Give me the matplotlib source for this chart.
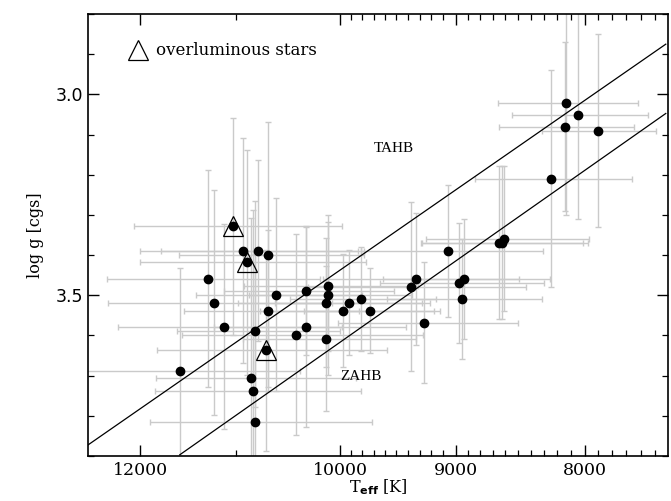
#HB stars: log g vs Teff with TAHB / ZAHB lines

import numpy as np
import matplotlib
matplotlib.use('Agg')
import matplotlib.pyplot as plt
from matplotlib.ticker import FixedLocator, NullFormatter

# Effective temperatures [K]
teff = [11030, 10923, 10782, 10684, 10886, 11283, 11218, 11114, 10605, 10682,
        10804, 10702, 11574, 10844, 10824, 10804, 10411, 10317, 10317, 10114,
        10114, 10131, 10131, 9970, 9916, 9815, 9731, 9062, 9327, 9371,
        9264, 8973, 8934, 8949, 8652, 8627, 8608, 8136, 8050, 8146,
        7905, 8249]
# Errors on Teff [K]
teff_err = [1045, 1085, 1000, 900, 1120, 1095, 1140, 1130, 800, 850,
            800, 1120, 1200, 990, 1015, 1090, 1140, 800, 900, 800,
            750, 850, 800, 790, 700, 650, 600, 750, 830, 930,
            760, 670, 680, 630, 640, 650, 640, 520, 500, 500,
            410, 590]
# Surface gravities
logg = [3.328, 3.389, 3.389, 3.399, 3.418, 3.459, 3.518, 3.578, 3.499, 3.538,
        3.588, 3.637, 3.688, 3.707, 3.737, 3.816, 3.598, 3.489, 3.578, 3.478,
        3.499, 3.518, 3.608, 3.538, 3.518, 3.509, 3.538, 3.390, 3.459, 3.479,
        3.568, 3.469, 3.459, 3.509, 3.369, 3.369, 3.359, 3.021, 3.051, 3.080,
        3.090, 3.210]
# Errors on log g
logg_err = [0.27, 0.28, 0.225, 0.33, 0.28, 0.27, 0.28, 0.255, 0.24, 0.20,
            0.19, 0.25, 0.255, 0.40, 0.45, 0.55, 0.25, 0.16, 0.25, 0.16,
            0.20, 0.16, 0.18, 0.14, 0.13, 0.13, 0.105, 0.165, 0.165, 0.21,
            0.15, 0.15, 0.15, 0.15, 0.19, 0.19, 0.18, 0.28, 0.26, 0.21,
            0.24, 0.27]
# Stars flagged as overluminous (indices into the arrays above)
overluminous = [0, 4, 11]

# Terminal-age and zero-age HB lines (end points)
tahb_teff = [12589, 7428]
tahb_logg = [3.8725, 2.875]
zahb_teff = [11577, 7428]
zahb_logg = [3.897, 3.0475]


def plot_hb(out_file):
    plt.rcParams['font.family'] = 'DejaVu Serif'
    fig = plt.figure(figsize=(6.71, 5.01), dpi=100)
    ax = fig.add_axes([0.1311, 0.0898, 0.8644, 0.8822])

    # error bars first, points on top
    ax.errorbar(teff, logg, xerr=teff_err, yerr=logg_err, fmt='none',
                ecolor='#cacaca', elinewidth=1.0, capsize=2.5, capthick=1.0, zorder=1)
    ax.plot(teff, logg, 'o', color='black', markersize=6, zorder=3)
    ax.plot([teff[i] for i in overluminous], [logg[i] for i in overluminous], '^',
            markerfacecolor='none', markeredgecolor='black', markersize=14,
            markeredgewidth=0.9, zorder=4)

    ax.plot(tahb_teff, tahb_logg, color='black', lw=0.9, zorder=2)
    ax.plot(zahb_teff, zahb_logg, color='black', lw=0.9, zorder=2)
    ax.text(9520, 3.135, 'TAHB', ha='center', va='center', fontsize=11,
            family='Liberation Serif')
    ax.text(9811, 3.702, 'ZAHB', ha='center', va='center', fontsize=11,
            family='Liberation Serif')

    # legend drawn by hand
    ax.plot([0.0862], [0.9186], '^', transform=ax.transAxes, markerfacecolor='none',
            markeredgecolor='black', markersize=14, markeredgewidth=0.9)
    ax.text(0.117, 0.9186, 'overluminous stars', transform=ax.transAxes,
            va='center', ha='left', fontsize=12)

    # axes: log T scale, both reversed
    ax.set_xscale('log')
    ax.set_xlim(10**4.1, 10**3.87)
    ax.set_ylim(3.9, 2.8)
    ax.xaxis.set_major_locator(FixedLocator([12000, 10000, 9000, 8000]))
    ax.set_xticklabels(['12000', '10000', '9000', '8000'])
    minors = [11000] + [t for t in range(7500, 10000, 100) if t not in (8000, 9000)]
    ax.xaxis.set_minor_locator(FixedLocator(minors))
    ax.xaxis.set_minor_formatter(NullFormatter())
    ax.set_yticks([3.0, 3.5])
    ax.set_yticklabels(['3.0', '3.5'], family='DejaVu Sans')
    ax.yaxis.set_minor_locator(FixedLocator(np.arange(2.8, 3.95, 0.1)))

    ax.tick_params(which='both', direction='in', top=True, right=True, labelsize=12.5)
    ax.tick_params(which='major', length=8, width=1.0)
    ax.tick_params(which='minor', length=4, width=0.9)
    ax.tick_params(axis='x', pad=4)
    for s in ax.spines.values():
        s.set_linewidth(1.2)

    ax.set_xlabel(r'T$_{\mathbf{eff}}$ [K]', fontsize=11.5, labelpad=-1)
    ax.set_ylabel('log g [cgs]', fontsize=11.5, labelpad=8)

    fig.savefig(out_file, dpi=100)


if __name__ == "__main__":
    plot_hb('out.png')
